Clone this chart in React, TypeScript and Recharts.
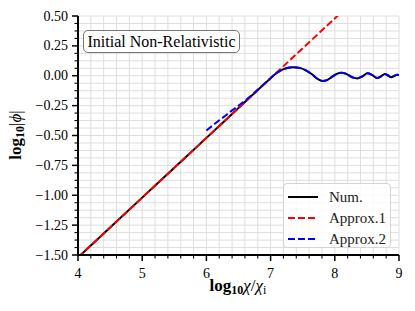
import { CartesianGrid, Line, LineChart, XAxis, YAxis } from 'recharts'

const FONT = '"Liberation Serif", "DejaVu Serif", serif'

// Num. (black, solid)
const NUM_X = [
  4.0, 4.5, 5.0, 5.5, 6.0, 6.5, 6.8, 7.0, 7.1, 7.2, 7.35, 7.45, 7.55, 7.65, 7.73, 7.81, 7.88,
  7.95, 8.03, 8.1, 8.17, 8.23, 8.29, 8.35, 8.43, 8.51, 8.585, 8.66, 8.72, 8.78, 8.83, 8.88,
  8.93, 8.97, 9.0,
]
const NUM_Y = [
  -1.52, -1.27, -1.02, -0.77, -0.52, -0.27, -0.12, -0.02, 0.025, 0.055, 0.071, 0.066, 0.045,
  0.01, -0.025, -0.044, -0.037, -0.012, 0.015, 0.026, 0.018, 0.0, -0.016, -0.022, -0.005, 0.02,
  0.005, -0.019, -0.005, 0.015, 0.002, -0.013, 0.0, 0.009, 0.005,
]

// Approx.1 (red, dashed)
const APPROX1_X = [4.0, 8.1]
const APPROX1_Y = [-1.52, 0.53]

// Approx.2 (blue, dashed)
const APPROX2_X = [
  6.0, 6.1, 6.2, 6.3, 6.4, 6.5, 6.6, 6.7, 6.8, 7.0, 7.1, 7.2, 7.35, 7.45, 7.55, 7.65, 7.73,
  7.81, 7.88, 7.95, 8.03, 8.1, 8.17, 8.23, 8.29, 8.35, 8.43, 8.51, 8.585, 8.66, 8.72, 8.78,
  8.83, 8.88, 8.93, 8.97, 9.0,
]
const APPROX2_Y = [
  -0.458, -0.415, -0.373, -0.332, -0.29, -0.25, -0.21, -0.165, -0.118, -0.02, 0.025, 0.055,
  0.071, 0.066, 0.045, 0.01, -0.025, -0.044, -0.037, -0.012, 0.015, 0.026, 0.018, 0.0, -0.016,
  -0.022, -0.005, 0.02, 0.005, -0.019, -0.005, 0.015, 0.002, -0.013, 0.0, 0.009, 0.005,
]

const X_MAJOR = [4, 5, 6, 7, 8, 9]
const Y_MAJOR = [-1.5, -1.25, -1.0, -0.75, -0.5, -0.25, 0, 0.25, 0.5]

const X_TICKS: number[] = []
for (let k = 0; k <= 25; k++) X_TICKS.push(Math.round((4 + k * 0.2) * 10) / 10)
const Y_TICKS: number[] = []
for (let k = 0; k <= 32; k++) Y_TICKS.push(-1.5 + k * 0.0625)

const LEGEND = [
  { label: 'Num.', color: '#000', dash: undefined },
  { label: 'Approx.1', color: '#ff0000', dash: '7 3' },
  { label: 'Approx.2', color: '#0000ff', dash: '7 3' },
]

const toPoints = (xs: number[], ys: number[]) => xs.map((x, i) => ({ x, y: ys[i] }))

const isMajor = (v: number, list: number[]) => list.some((m) => Math.abs(m - v) < 1e-6)

function fmtY(v: number) {
  return v.toFixed(2).replace('-', '\u2212')
}

function XTick({ x, y, payload }: any) {
  const v = payload.value
  const major = isMajor(v, X_MAJOR)
  return (
    <g>
      <line x1={x} x2={x} y1={y} y2={y + (major ? 6 : 3.5)} stroke="#000" strokeWidth={major ? 1.5 : 1.1} />
      {major && (
        <text x={x} y={y + 18} textAnchor="middle" dominantBaseline="central" fontFamily={FONT} fontSize={14} fill="#000">
          {v}
        </text>
      )}
    </g>
  )
}

function YTick({ x, y, payload }: any) {
  const v = payload.value
  const major = isMajor(v, Y_MAJOR)
  return (
    <g>
      <line x1={x - (major ? 6 : 3.5)} x2={x} y1={y} y2={y} stroke="#000" strokeWidth={major ? 1.5 : 1.1} />
      {major && (
        <text x={x - 10} y={y} textAnchor="end" dominantBaseline="central" fontFamily={FONT} fontSize={14} fill="#000">
          {fmtY(v)}
        </text>
      )}
    </g>
  )
}

export default function App() {
  return (
    <div style={{ position: 'absolute', left: 0, top: 0, width: 415, height: 311, background: '#fff', fontFamily: FONT }}>
      <LineChart width={415} height={311} margin={{ top: 16, right: 16, left: 0, bottom: 0 }}>
        <CartesianGrid stroke="#dedede" strokeWidth={1} />
        <XAxis
          dataKey="x"
          type="number"
          domain={[4, 9]}
          ticks={X_TICKS}
          interval={0}
          allowDataOverflow
          height={56}
          tickSize={0}
          tickMargin={0}
          tickLine={false}
          tick={<XTick />}
          axisLine={{ stroke: '#000', strokeWidth: 2 }}
        />
        <XAxis
          xAxisId="top"
          orientation="top"
          type="number"
          domain={[4, 9]}
          height={0}
          tick={false}
          tickLine={false}
          axisLine={{ stroke: '#000', strokeWidth: 2 }}
        />
        <YAxis
          dataKey="y"
          type="number"
          domain={[-1.5, 0.5]}
          ticks={Y_TICKS}
          interval={0}
          allowDataOverflow
          width={78}
          tickSize={0}
          tickMargin={0}
          tickLine={false}
          tick={<YTick />}
          axisLine={{ stroke: '#000', strokeWidth: 2 }}
        />
        <YAxis
          yAxisId="right"
          orientation="right"
          type="number"
          domain={[-1.5, 0.5]}
          width={0}
          tick={false}
          tickLine={false}
          axisLine={{ stroke: '#000', strokeWidth: 2 }}
        />
        <Line
          data={toPoints(NUM_X, NUM_Y)}
          dataKey="y"
          type="monotone"
          stroke="#000"
          strokeWidth={2}
          dot={false}
          isAnimationActive={false}
        />
        <Line
          data={toPoints(APPROX1_X, APPROX1_Y)}
          dataKey="y"
          type="linear"
          stroke="#ff0000"
          strokeWidth={2}
          strokeDasharray="7 3"
          dot={false}
          isAnimationActive={false}
        />
        <Line
          data={toPoints(APPROX2_X, APPROX2_Y)}
          dataKey="y"
          type="monotone"
          stroke="#0000ff"
          strokeWidth={2}
          strokeDasharray="7 3"
          dot={false}
          isAnimationActive={false}
        />
      </LineChart>

      <div
        style={{
          position: 'absolute',
          left: 83,
          top: 30,
          width: 157,
          height: 23,
          boxSizing: 'border-box',
          border: '1px solid #777',
          borderRadius: 5,
          background: '#fff',
          fontSize: 16,
          lineHeight: '21px',
          textAlign: 'center',
        }}
      >
        Initial Non-Relativistic
      </div>

      <div
        style={{
          position: 'absolute',
          left: 283,
          top: 183,
          width: 108,
          height: 65,
          boxSizing: 'border-box',
          border: '1px solid #d4d4d4',
          borderRadius: 4,
          background: 'rgba(255,255,255,0.85)',
        }}
      >
        {LEGEND.map((s, i) => (
          <div key={s.label} style={{ position: 'absolute', left: 4, top: 3 + i * 21, height: 20, display: 'flex', alignItems: 'center' }}>
            <svg width={30} height={6} style={{ display: 'block' }}>
              <line x1={0} x2={30} y1={3} y2={3} stroke={s.color} strokeWidth={2} strokeDasharray={s.dash} />
            </svg>
            <span style={{ marginLeft: 11, fontSize: 15, color: '#222' }}>{s.label}</span>
          </div>
        ))}
      </div>

      <div
        style={{
          position: 'absolute',
          left: 238,
          top: 287,
          transform: 'translate(-50%, -50%)',
          whiteSpace: 'nowrap',
          fontSize: 17,
        }}
      >
        <b>log</b>
        <b style={{ fontSize: 12, verticalAlign: -3 }}>10</b>
        <i>χ</i>/<i>χ</i>
        <span style={{ fontSize: 12, verticalAlign: -3 }}>i</span>
      </div>

      <div
        style={{
          position: 'absolute',
          left: 17,
          top: 135,
          transform: 'translate(-50%, -50%) rotate(-90deg)',
          whiteSpace: 'nowrap',
          fontSize: 17,
        }}
      >
        <b>log</b>
        <b style={{ fontSize: 12, verticalAlign: -3 }}>10</b>|<i>ϕ</i>|
      </div>
    </div>
  )
}
